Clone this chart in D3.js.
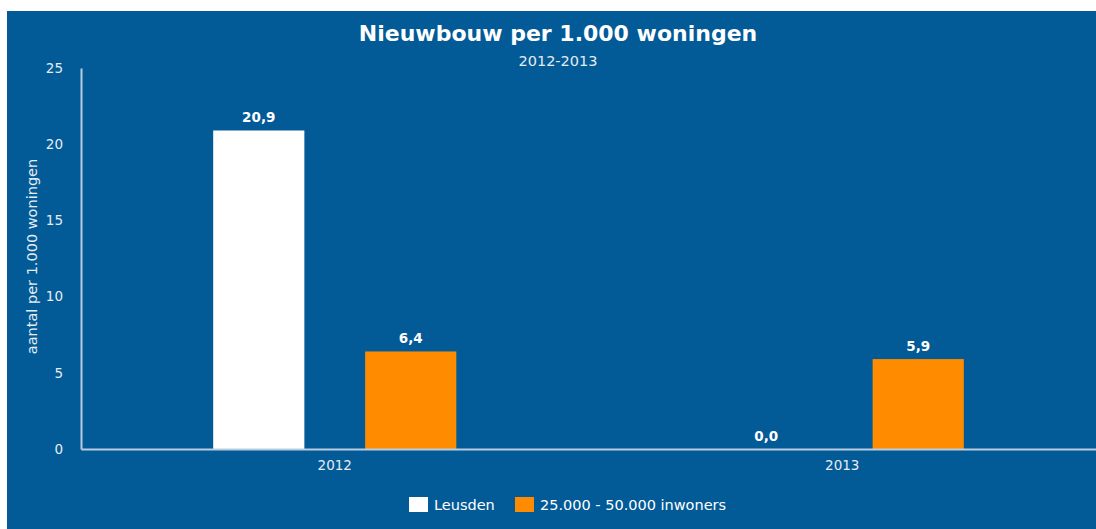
<!DOCTYPE html>
<html>
<head>
<meta charset="utf-8">
<script src="https://cdn.jsdelivr.net/npm/d3@7"></script>
<style>
  body { margin: 0; background: #fff; }
  svg { display: block; font-family: 'DejaVu Sans', sans-serif; }
</style>
</head>
<body>
<div class="canvas"></div>
<script>
// data
const years = ['2012', '2013']
const series = ['Leusden', '25.000 - 50.000 inwoners']
const leusden = [20.9, 0.0]
const klasse = [6.4, 5.9]
const yTicks = [0, 5, 10, 15, 20, 25]

const colors = ['#ffffff', '#ff8c00']
const values = [leusden, klasse]

const dims = { width: 1096, height: 529 }
const plot = { left: 81, right: 1096, top: 68, bottom: 449 }

const svg = d3.select('.canvas')
  .append('svg')
  .attr('width', dims.width)
  .attr('height', dims.height)

// background panel
svg.append('rect')
  .attr('x', 7).attr('y', 11)
  .attr('width', dims.width - 7)
  .attr('height', dims.height - 11)
  .attr('fill', '#025a97')

svg.append('text')
  .attr('x', 558).attr('y', 41)
  .attr('text-anchor', 'middle')
  .attr('fill', '#fff')
  .attr('font-size', 22)
  .attr('font-weight', 'bold')
  .text('Nieuwbouw per 1.000 woningen')

svg.append('text')
  .attr('x', 558).attr('y', 66)
  .attr('text-anchor', 'middle')
  .attr('fill', '#e6ecf2')
  .attr('font-size', 14.5)
  .text('2012-2013')

const y = d3.scaleLinear()
  .domain([0, 25])
  .range([plot.bottom, plot.top])

const x0 = d3.scaleBand()
  .domain(years)
  .range([plot.left, plot.right])

const x1 = d3.scaleBand()
  .domain(series)
  .range([0, x0.bandwidth()])
  .paddingInner(0.4)
  .paddingOuter(0.87)

// y axis
const yAxis = svg.append('g')
  .attr('transform', `translate(${plot.left},0)`)
  .call(d3.axisLeft(y).tickValues(yTicks).tickSize(0).tickPadding(18))
yAxis.select('.domain').attr('stroke', '#b9cde0').attr('stroke-width', 2)
yAxis.selectAll('text')
  .attr('fill', '#e6ecf2')
  .attr('font-size', 13.5)
  .attr('font-family', 'DejaVu Sans')

svg.append('text')
  .attr('transform', `translate(37, ${(plot.top + plot.bottom) / 2 - 2}) rotate(-90)`)
  .attr('text-anchor', 'middle')
  .attr('fill', '#e6ecf2')
  .attr('font-size', 14.5)
  .text('aantal per 1.000 woningen')

// bars
const groups = svg.selectAll('g.year')
  .data(years)
  .enter()
  .append('g')
    .attr('class', 'year')
    .attr('transform', d => `translate(${x0(d)},0)`)

groups.selectAll('rect')
  .data((d, i) => series.map((s, j) => ({ s, v: values[j][i], c: colors[j] })))
  .enter()
  .append('rect')
    .attr('x', d => x1(d.s))
    .attr('y', d => y(d.v))
    .attr('width', x1.bandwidth())
    .attr('height', d => plot.bottom - y(d.v))
    .attr('fill', d => d.c)

groups.selectAll('text')
  .data((d, i) => series.map((s, j) => ({ s, v: values[j][i] })))
  .enter()
  .append('text')
    .attr('x', d => x1(d.s) + x1.bandwidth() / 2)
    .attr('y', d => y(d.v) - 8)
    .attr('text-anchor', 'middle')
    .attr('fill', '#fff')
    .attr('font-size', 13.5)
    .attr('font-weight', 'bold')
    .text(d => d.v.toFixed(1).replace('.', ','))

// x axis
const xAxis = svg.append('g')
  .attr('transform', `translate(0,${plot.bottom})`)
  .call(d3.axisBottom(x0).tickSize(0).tickPadding(11).tickSizeOuter(0))
xAxis.select('.domain').attr('stroke', '#b9cde0').attr('stroke-width', 2)
xAxis.selectAll('text')
  .attr('fill', '#e6ecf2')
  .attr('font-size', 13.5)
  .attr('font-family', 'DejaVu Sans')

// legend
const legendX = [409, 515]
const legend = svg.selectAll('g.legend')
  .data(series)
  .enter()
  .append('g')
    .attr('class', 'legend')
    .attr('transform', (d, i) => `translate(${legendX[i]}, 497)`)

legend.append('rect')
  .attr('width', 19)
  .attr('height', 15)
  .attr('fill', (d, i) => colors[i])

legend.append('text')
  .attr('x', 25)
  .attr('y', 13)
  .attr('fill', '#fff')
  .attr('font-size', 14.5)
  .text(d => d)
</script>
</body>
</html>
